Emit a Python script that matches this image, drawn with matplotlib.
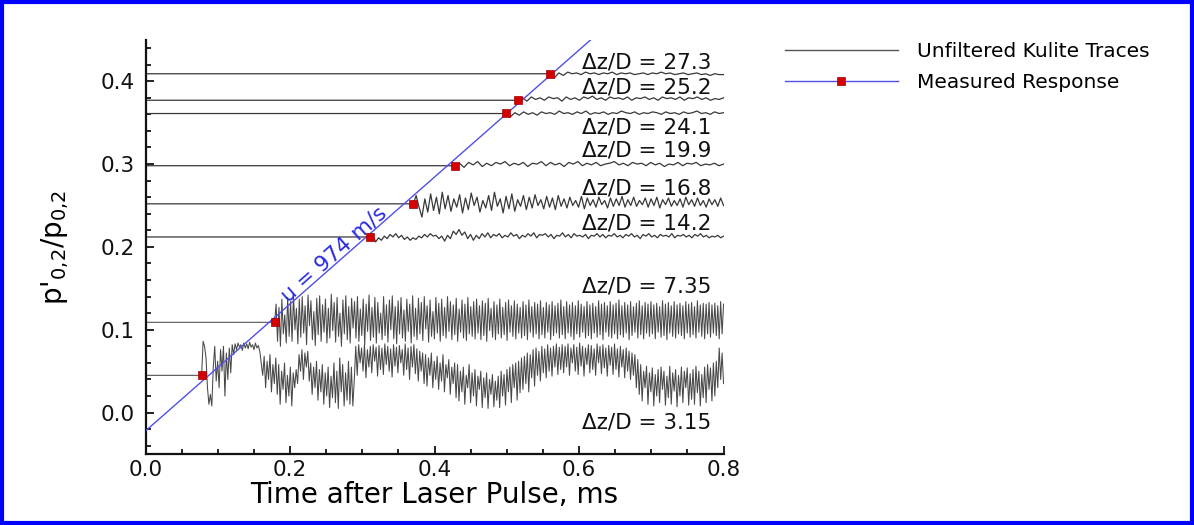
import numpy as np
import matplotlib
matplotlib.use("Agg")
import matplotlib.pyplot as plt
from matplotlib.lines import Line2D
from matplotlib.patches import Rectangle
from matplotlib.ticker import MultipleLocator

# label text and where it sits (data coords)
labels = ["Δz/D = 27.3", "Δz/D = 25.2", "Δz/D = 24.1", "Δz/D = 19.9",
          "Δz/D = 16.8", "Δz/D = 14.2", "Δz/D = 7.35", "Δz/D = 3.15"]
label_y = [0.4226, 0.3926, 0.3445, 0.3165, 0.2708, 0.2287, 0.1518, -0.0118]
label_t = 0.6035

# measured response (red squares) = arrival time and level of each trace
onset_t = [0.5596, 0.5157, 0.4987, 0.4281, 0.3704, 0.3104, 0.1785, 0.0775]
onset_y = [0.4086, 0.3774, 0.3613, 0.2976, 0.2516, 0.2115, 0.1094, 0.0451]

# linear fit, u = 974 m/s
fit_t = [0.0, 0.62]
fit_y = [-0.022, 0.453]

# Kulite traces after arrival, in units of 0.001
trace_273 = [409, 404, 410, 407, 411, 409, 410, 408, 411, 409,
             410, 408, 410, 409, 411, 408, 410, 409, 410, 408,
             409, 410, 408, 410, 409, 411, 409, 410, 408, 409,
             410, 408, 409, 410, 408, 409, 407, 409, 408, 408]
trace_252 = [377, 380, 376, 381, 378, 380, 377, 381, 379, 380,
             376, 381, 378, 380, 377, 381, 379, 382, 378, 380,
             377, 381, 379, 380, 378, 381, 377, 380, 379, 381,
             378, 380, 377, 381, 379, 380, 378, 381, 377, 380,
             379, 381, 378, 380, 377, 379, 378, 380]
trace_241 = [361, 357, 362, 359, 363, 360, 362, 359, 363, 361,
             362, 360, 364, 361, 362, 360, 363, 361, 364, 360,
             362, 361, 363, 360, 362, 361, 364, 362, 361, 363,
             360, 362, 361, 363, 362, 360, 363, 361, 362, 360,
             363, 361, 362, 364, 361, 362, 360, 363, 361, 362]
trace_199 = [298, 301, 296, 302, 299, 303, 297, 301, 298, 302,
             300, 303, 298, 301, 299, 302, 297, 301, 300, 303,
             298, 302, 299, 301, 297, 302, 300, 303, 298, 301,
             299, 302, 298, 300, 301, 303, 299, 301, 298, 302,
             300, 301, 298, 302, 299, 301, 297, 300, 299, 302,
             298, 301, 300, 302, 298, 300, 299, 301, 298, 300]
trace_168 = [252, 262, 248, 236, 258, 242, 264, 244, 260, 240,
             266, 246, 262, 243, 258, 248, 263, 241, 259, 245,
             265, 250, 260, 242, 256, 247, 262, 244, 266, 249,
             258, 241, 261, 246, 264, 243, 257, 249, 262, 245,
             260, 247, 263, 250, 257, 246, 261, 248, 259, 245,
             262, 249, 258, 247, 260, 250, 256, 248, 261, 246,
             259, 250, 257, 248, 260, 251, 256, 247, 259, 249,
             258, 250, 261, 248, 257, 250, 260, 249, 256, 251,
             259, 248, 258, 250, 260, 247, 257, 251, 259, 249,
             256, 250, 258, 248, 260, 251, 257, 249, 259, 250,
             256, 248, 258, 251, 257, 249, 259, 250]
trace_142 = [212, 214, 206, 211, 208, 213, 210, 215, 212, 216,
             211, 214, 209, 212, 208, 211, 209, 213, 211, 215,
             212, 216, 213, 214, 210, 213, 207, 214, 210, 219,
             215, 221, 214, 218, 210, 215, 208, 214, 210, 216,
             212, 217, 211, 215, 213, 216, 211, 214, 212, 217,
             213, 215, 210, 214, 212, 216, 213, 217, 211, 215,
             214, 216, 212, 215, 210, 214, 213, 217, 212, 215,
             211, 216, 213, 214, 212, 215, 210, 214, 213, 216,
             212, 215, 211, 214, 213, 216, 212, 214, 211, 215,
             213, 216, 212, 214, 210, 215, 213, 216, 212, 214,
             211, 215, 213, 214, 212, 216, 211, 214, 213, 215,
             212, 214, 211, 215, 213, 216, 212, 214, 211, 213,
             212, 214, 211, 213]
trace_735 = [109, 131, 86, 127, 80, 137, 95, 118, 84, 139, 92, 134, 86, 141, 100, 126, 83, 137, 91, 140,
             96, 129, 82, 142, 105, 135, 88, 122, 81, 138, 94, 141, 86, 130, 97, 137, 84, 126, 90, 143,
             99, 133, 85, 139, 92, 120, 80, 136, 95, 141, 88, 128, 84, 138, 102, 134, 90, 140, 86, 125,
             93, 137, 82, 131, 98, 142, 87, 127, 91, 139, 84, 133, 96, 120, 88, 140, 93, 130, 85, 136,
             100, 141, 89, 128, 83, 135, 95, 139, 90, 124, 86, 137, 98, 131, 84, 141, 92, 126, 88, 138,
             95, 133, 87, 140, 101, 129, 85, 136, 92, 122, 89, 139, 96, 132, 86, 137, 93, 127, 90, 140,
             98, 134, 88, 130, 94, 138, 86, 125, 97, 136, 90, 131, 87, 139, 95, 128, 92, 134, 89, 137,
             96, 129, 88, 135, 93, 132, 86, 138, 99, 126, 91, 134, 88, 130, 95, 137, 90, 127, 94, 133,
             87, 136, 97, 129, 92, 135, 89, 131, 96, 127, 90, 134, 93, 130, 88, 136, 97, 128, 91, 133,
             95, 131, 89, 135, 94, 127, 90, 133, 97, 130, 88, 134, 93, 129, 96, 132, 90, 136, 94, 128,
             89, 134, 96, 130, 92, 133, 88, 129, 95, 135, 91, 131, 97, 128, 90, 134, 93, 130, 89, 132,
             96, 128, 91, 135, 94, 131, 88, 133, 97, 129, 92, 134, 90, 130, 95, 132, 89, 136, 94, 129,
             91, 133, 96, 130, 88, 134, 93, 128, 97, 132, 90, 135, 94, 129, 89, 133, 96, 131, 92, 134,
             95, 130, 89, 132, 97, 128, 91, 135, 93, 131, 88, 133, 96, 129, 92, 134, 90, 130, 95, 132,
             93, 129, 89, 134, 96, 131, 91, 133, 94, 128, 90, 135, 97, 130, 92, 132, 89, 131, 95, 133,
             91, 130, 96, 132, 93, 129, 89, 134, 95, 131]
trace_315 = [45, 86, 80, 66, 30, 10, 22, 8,
             55, 80, 38, 62, 30, 76, 50, 80, 20, 72, 40, 78, 48, 82,
             70, 83, 76, 84, 79, 82, 75, 84, 78, 83, 77, 85, 79, 82, 76, 84, 78, 81,
             74, 60, 45, 68, 30, 62, 40, 70, 25, 58, 35, 66, 22,
             58, 10, 50, 28, 60, 12, 45, 20, 55, 8, 48, 30, 52,
             35, 70, 50, 76, 40, 72, 55, 74,
             38, 60, 22, 55, 30, 62, 15, 52, 25, 58, 10, 48, 20, 55, 6, 44, 18,
             60, 12, 50, 5, 66, 25, 58, 8, 48, 15, 62, 10, 55, 8, 40,
             80, 45, 82, 60, 78, 50, 83, 42, 76, 55, 80, 48, 82, 62, 79, 44, 81, 52, 78, 46,
             83, 58, 80, 50, 77, 43, 82, 56, 79, 48, 81, 60, 76, 45, 83, 52, 78, 40, 80, 55,
             82, 47, 77, 38, 74, 50, 72, 35,
             70, 32, 66, 45, 72, 30, 62, 40, 68, 28, 60, 38, 70, 25, 58, 42, 64, 22, 55, 35, 60, 18,
             58, 14, 50, 25, 55, 10, 45, 30, 58, 12, 48, 20, 52, 8, 44, 28, 50, 6, 42, 18,
             48, 5, 40, 22, 46, 7, 38, 15, 44, 6, 50, 20, 46, 9, 52, 25, 55, 12, 58, 30,
             60, 15, 62, 24, 66,
             28, 68, 35, 72, 25, 70, 42, 76, 32, 78, 45, 74, 38, 80, 48, 77, 42, 82, 50, 78,
             44, 80, 55, 83, 46, 79, 52, 82,
             48, 80, 55, 83, 45, 78, 60, 82, 50, 79, 46, 84, 56, 80, 44, 78, 58, 82, 48, 81,
             52, 77, 45, 83, 60, 80, 47, 82, 54, 78, 44, 81, 57, 79, 46, 83, 52, 77, 43, 80,
             55, 76, 42, 78, 50, 74, 40, 72, 45, 70,
             30, 64, 22, 58, 14, 50, 30, 56, 10, 48, 25, 54, 8, 46, 20, 52, 12, 55, 28, 50,
             9, 44, 18, 56, 10, 48, 26, 52, 7, 45, 20, 55, 12, 50, 30, 54, 9, 47, 16, 52,
             10, 56, 24, 50, 8, 46, 18, 55, 12, 58, 28, 54, 14, 60, 20, 62,
             30, 78, 40, 72, 35]

traces = [trace_273, trace_252, trace_241, trace_199,
          trace_168, trace_142, trace_735, trace_315]

plt.rcParams["font.family"] = ["DejaVu Sans"]
plt.rcParams["mathtext.default"] = "regular"

fig = plt.figure(figsize=(11.94, 5.25), dpi=100)
ax = fig.add_axes([0.122, 0.1352, 0.484, 0.789])

for vals, t0 in zip(traces, onset_t):
    t = np.concatenate(([0.0], np.linspace(t0, 0.8, len(vals))))
    y = np.concatenate(([vals[0] / 1000.0], np.array(vals) / 1000.0))
    dense = len(vals) > 200
    ax.plot(t, y, color="#484848" if dense else "#383838",
            lw=0.75 if dense else 0.9, zorder=2)

ax.plot(fit_t, fit_y, color="#5050e6", lw=1.0, zorder=3)
ax.plot(onset_t, onset_y, ls="none", marker="s", ms=5.5,
        mfc="#d40000", mec="#a00000", mew=0.5, zorder=4)

for txt, ly in zip(labels, label_y):
    ax.text(label_t, ly, txt, fontsize=15.5, ha="left", va="center", color="#111111")

ax.text(0.2606, 0.191, "u = 974 m/s", color="#2a2ae0", fontsize=15.5,
        rotation=41.4, rotation_mode="anchor", ha="center", va="center")

ax.set_xlim(0, 0.8)
ax.set_ylim(-0.05, 0.45)
ax.xaxis.set_major_locator(MultipleLocator(0.2))
ax.xaxis.set_minor_locator(MultipleLocator(0.05))
ax.yaxis.set_major_locator(MultipleLocator(0.1))
ax.yaxis.set_minor_locator(MultipleLocator(0.02))
ax.xaxis.set_major_formatter(lambda v, p: f"{v:.1f}")
ax.yaxis.set_major_formatter(lambda v, p: f"{v:.1f}")
ax.tick_params(which="both", direction="in", labelsize=15.5, width=1.3, colors="#111111")
ax.tick_params(which="major", length=6)
ax.tick_params(which="minor", length=3.5)
ax.tick_params(axis="y", pad=8)
ax.tick_params(axis="x", pad=4)
for s in ["top", "right"]:
    ax.spines[s].set_visible(False)
for s in ["left", "bottom"]:
    ax.spines[s].set_linewidth(1.6)
    ax.spines[s].set_color("#111111")

ax.set_xlabel("Time after Laser Pulse, ms", fontsize=20, labelpad=1)
ax.set_ylabel(r"p$'_{0{,}2}$/p$_{0{,}2}$", fontsize=20, labelpad=21)

handles = [Line2D([0, 1], [0, 0], color="#555555", lw=1.0),
           Line2D([0, 0.5, 1], [0, 0, 0], color="#5050e6", lw=1.0, marker="s", ms=5.5,
                  mfc="#d40000", mec="#a00000", mew=0.5, markevery=[1])]
fig.legend(handles, ["Unfiltered Kulite Traces", "Measured Response"],
           loc="upper left", bbox_to_anchor=(0.6575, 0.92), frameon=False,
           fontsize=14.5, borderpad=0, borderaxespad=0, handlelength=5.6,
           handletextpad=0.95, labelspacing=0.62, numpoints=1)

fig.add_artist(Rectangle((0.002, 0.004), 0.996, 0.992, transform=fig.transFigure,
                         fill=False, edgecolor="#0000ff", lw=3.0))

fig.savefig("out.png", dpi=100)
